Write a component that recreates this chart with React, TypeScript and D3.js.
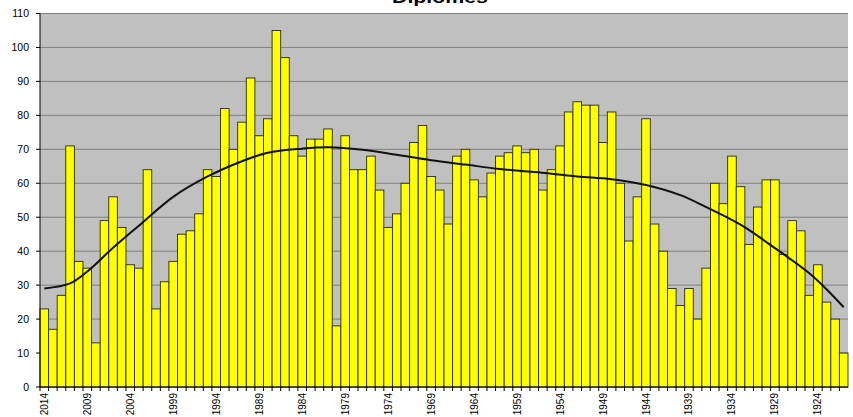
import React from "react";
import * as d3 from "d3";

const years: number[] = d3.range(2014, 1920, -1);
const values: number[] = [
  23, 17, 27, 71, 37, 35, 13, 49, 56, 47,
  36, 35, 64, 23, 31, 37, 45, 46, 51, 64,
  62, 82, 70, 78, 91, 74, 79, 105, 97, 74,
  68, 73, 73, 76, 18, 74, 64, 64, 68, 58,
  47, 51, 60, 72, 77, 62, 58, 48, 68, 70,
  61, 56, 63, 68, 69, 71, 69, 70, 58, 64,
  71, 81, 84, 83, 83, 72, 81, 60, 43, 56,
  79, 48, 40, 29, 24, 29, 20, 35, 60, 54,
  68, 59, 42, 53, 61, 61, 39, 49, 46, 27,
  36, 25, 20, 10,
];
const trendYears: number[] = [
  2014, 2011, 2009, 2006, 2003, 1999, 1995, 1991, 1988, 1984, 1981, 1977, 1973, 1969,
  1965, 1961, 1957, 1952, 1948, 1944, 1940, 1937, 1933, 1929, 1925, 1923, 1921,
];
const trendValues: number[] = [
  29, 30.5, 34, 41, 47.5, 56, 62, 66.5, 69, 70.2, 70.6, 69.9, 68.4, 66.8,
  65.5, 64.2, 63.3, 62, 61.2, 59.5, 56.5, 53, 47.8, 40.9, 33.5, 28.8, 23.5,
];
const yTicks: number[] = d3.range(0, 111, 10);
const xTickYears: number[] = d3.range(2014, 1920, -5);
const title = "Diplômés";

const W = 853;
const H = 417;
const left = 40;
const right = 848;
const top = 13.5;
const bottom = 387;

export default function App() {
  const x = d3.scaleBand<string>().domain(years.map(String)).range([left, right]).padding(0);
  const y = d3.scaleLinear().domain([0, 110]).range([bottom, top]);
  const bw = x.bandwidth();
  const line = d3
    .line<number>()
    .x((_, i) => (x(String(trendYears[i])) as number) + bw / 2)
    .y((d) => y(d))
    .curve(d3.curveCatmullRom.alpha(0.5));

  return (
    <svg
      width={W}
      height={H}
      style={{ position: "absolute", left: 0, top: 0, fontFamily: "Liberation Sans, Arial, sans-serif" }}
    >
      <rect x={0} y={0} width={W} height={H} fill="#ffffff" />
      <rect x={left} y={top} width={right - left} height={bottom - top} fill="#c0c0c0" />
      {yTicks.map((t) => (
        <line key={"g" + t} x1={left} x2={right} y1={y(t)} y2={y(t)} stroke="#808080" strokeWidth={1} />
      ))}
      {values.map((v, i) => (
        <rect
          key={"b" + i}
          x={x(String(years[i]))}
          y={y(v)}
          width={bw}
          height={y(0) - y(v)}
          fill="#ffff00"
          stroke="#2a2a10"
          strokeWidth={0.9}
        />
      ))}
      <path d={line(trendValues) || ""} fill="none" stroke="#111111" strokeWidth={2} />
      <line x1={left} x2={left} y1={top} y2={bottom} stroke="#000" strokeWidth={1} />
      <line x1={left} x2={right} y1={bottom} y2={bottom} stroke="#000" strokeWidth={1} />
      {yTicks.map((t) => (
        <g key={"yt" + t}>
          <line x1={left - 4} x2={left} y1={y(t)} y2={y(t)} stroke="#000" />
          <text x={29} y={y(t)} dy="0.35em" textAnchor="end" fontSize={10.5} fill="#000">
            {t}
          </text>
        </g>
      ))}
      {years.map((yr, i) => (
        <line
          key={"xt" + i}
          x1={x(String(yr))}
          x2={x(String(yr))}
          y1={bottom}
          y2={bottom + 4}
          stroke="#000"
        />
      ))}
      {xTickYears.map((yr) => {
        const cx = (x(String(yr)) as number) + bw / 2;
        return (
          <text
            key={"xl" + yr}
            transform={`translate(${cx},${bottom + 6}) rotate(-90)`}
            textAnchor="end"
            dy="0.35em"
            fontSize={10}
            fill="#000"
          >
            {yr}
          </text>
        );
      })}
      <text
        x={(left + right) / 2 - 4}
        y={3}
        textAnchor="middle"
        fontSize={17}
        fontWeight="bold"
        textLength={96}
        lengthAdjust="spacingAndGlyphs"
        fill="#000"
      >
        {title}
      </text>
    </svg>
  );
}
